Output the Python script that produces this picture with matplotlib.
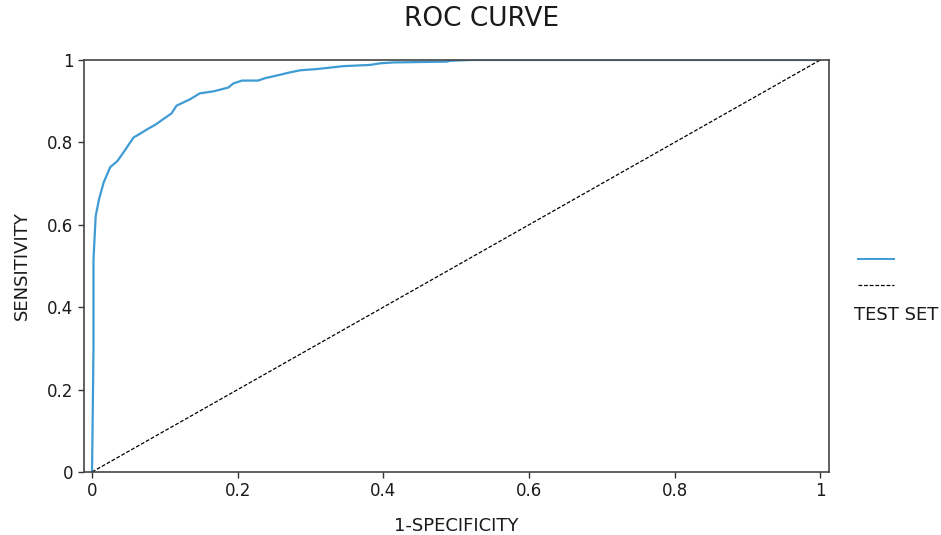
import matplotlib
matplotlib.use("Agg")
import matplotlib.pyplot as plt
from matplotlib.lines import Line2D
from matplotlib import font_manager

# ── data ────────────────────────────────────────────────────────────────────
fpr = [0.0, 0.002, 0.002, 0.005, 0.0096, 0.016, 0.025, 0.035, 0.046, 0.057,
       0.065, 0.076, 0.088, 0.099, 0.109, 0.116, 0.135, 0.148, 0.167, 0.187,
       0.194, 0.206, 0.228, 0.238, 0.258, 0.272, 0.286, 0.309, 0.345, 0.382,
       0.396, 0.414, 0.487, 0.492, 0.519, 1.0]
tpr = [0.0, 0.30, 0.516, 0.621, 0.662, 0.703, 0.740, 0.755, 0.783, 0.812,
       0.820, 0.832, 0.844, 0.858, 0.870, 0.889, 0.905, 0.919, 0.924, 0.933,
       0.943, 0.950, 0.950, 0.956, 0.964, 0.970, 0.975, 0.978, 0.985, 0.988,
       0.992, 0.994, 0.996, 0.998, 1.0, 1.0]
chance = [0, 1]
xticks = [0, 0.2, 0.4, 0.6, 0.8, 1]
xticklabels = ["0", "0.2", "0.4", "0.6", "0.8", "1"]
yticks = [0, 0.2, 0.4, 0.6, 0.8, 1]
yticklabels = ["0", "0.2", "0.4", "0.6", "0.8", "1"]

_BLUE = "#3f9bd3"
_TEXT = "#1a1a1a"

names = {f.name for f in font_manager.fontManager.ttflist}
family = "Liberation Sans Narrow" if "Liberation Sans Narrow" in names else "DejaVu Sans"
plt.rcParams["font.family"] = [family, "DejaVu Sans"]

fig = plt.figure(figsize=(9.41, 5.35), dpi=100, facecolor="white")
ax = fig.add_axes([0.0893, 0.1178, 0.7917, 0.7701])

ax.plot(fpr, tpr, color=_BLUE, linewidth=1.6, solid_joinstyle="round")
ax.plot(chance, chance, color="black", linewidth=0.9, linestyle=(0, (3, 1.5)))

ax.set_xlim(-0.011, 1.012)
ax.set_ylim(0, 1.0)
ax.set_xticks(xticks)
ax.set_xticklabels(xticklabels)
ax.set_yticks(yticks)
ax.set_yticklabels(yticklabels)
ax.tick_params(direction="out", length=4, width=1, colors="#333333",
               labelsize=12, labelcolor=_TEXT)
for spine in ax.spines.values():
    spine.set_edgecolor("#444444")
    spine.set_linewidth(1.2)

ax.set_xlabel("1-SPECIFICITY", fontsize=13, color=_TEXT, labelpad=12)
ax.set_ylabel("SENSITIVITY", fontsize=13, color=_TEXT, labelpad=12)

fig.text(0.512, 0.965, "ROC CURVE", ha="center", va="center",
         fontsize=19, color=_TEXT)

handles = [Line2D([], [], color=_BLUE, linewidth=1.4),
           Line2D([], [], color="black", linewidth=0.9, linestyle=(0, (3, 1.5)))]
fig.legend(handles, ["", ""], loc="center left", bbox_to_anchor=(0.898, 0.49),
           frameon=False, handlelength=2.6, labelspacing=0.9, handletextpad=0)
fig.text(0.908, 0.411, "TEST SET", ha="left", va="center",
         fontsize=13, color=_TEXT)

fig.savefig("out.png", dpi=100, facecolor="white")
